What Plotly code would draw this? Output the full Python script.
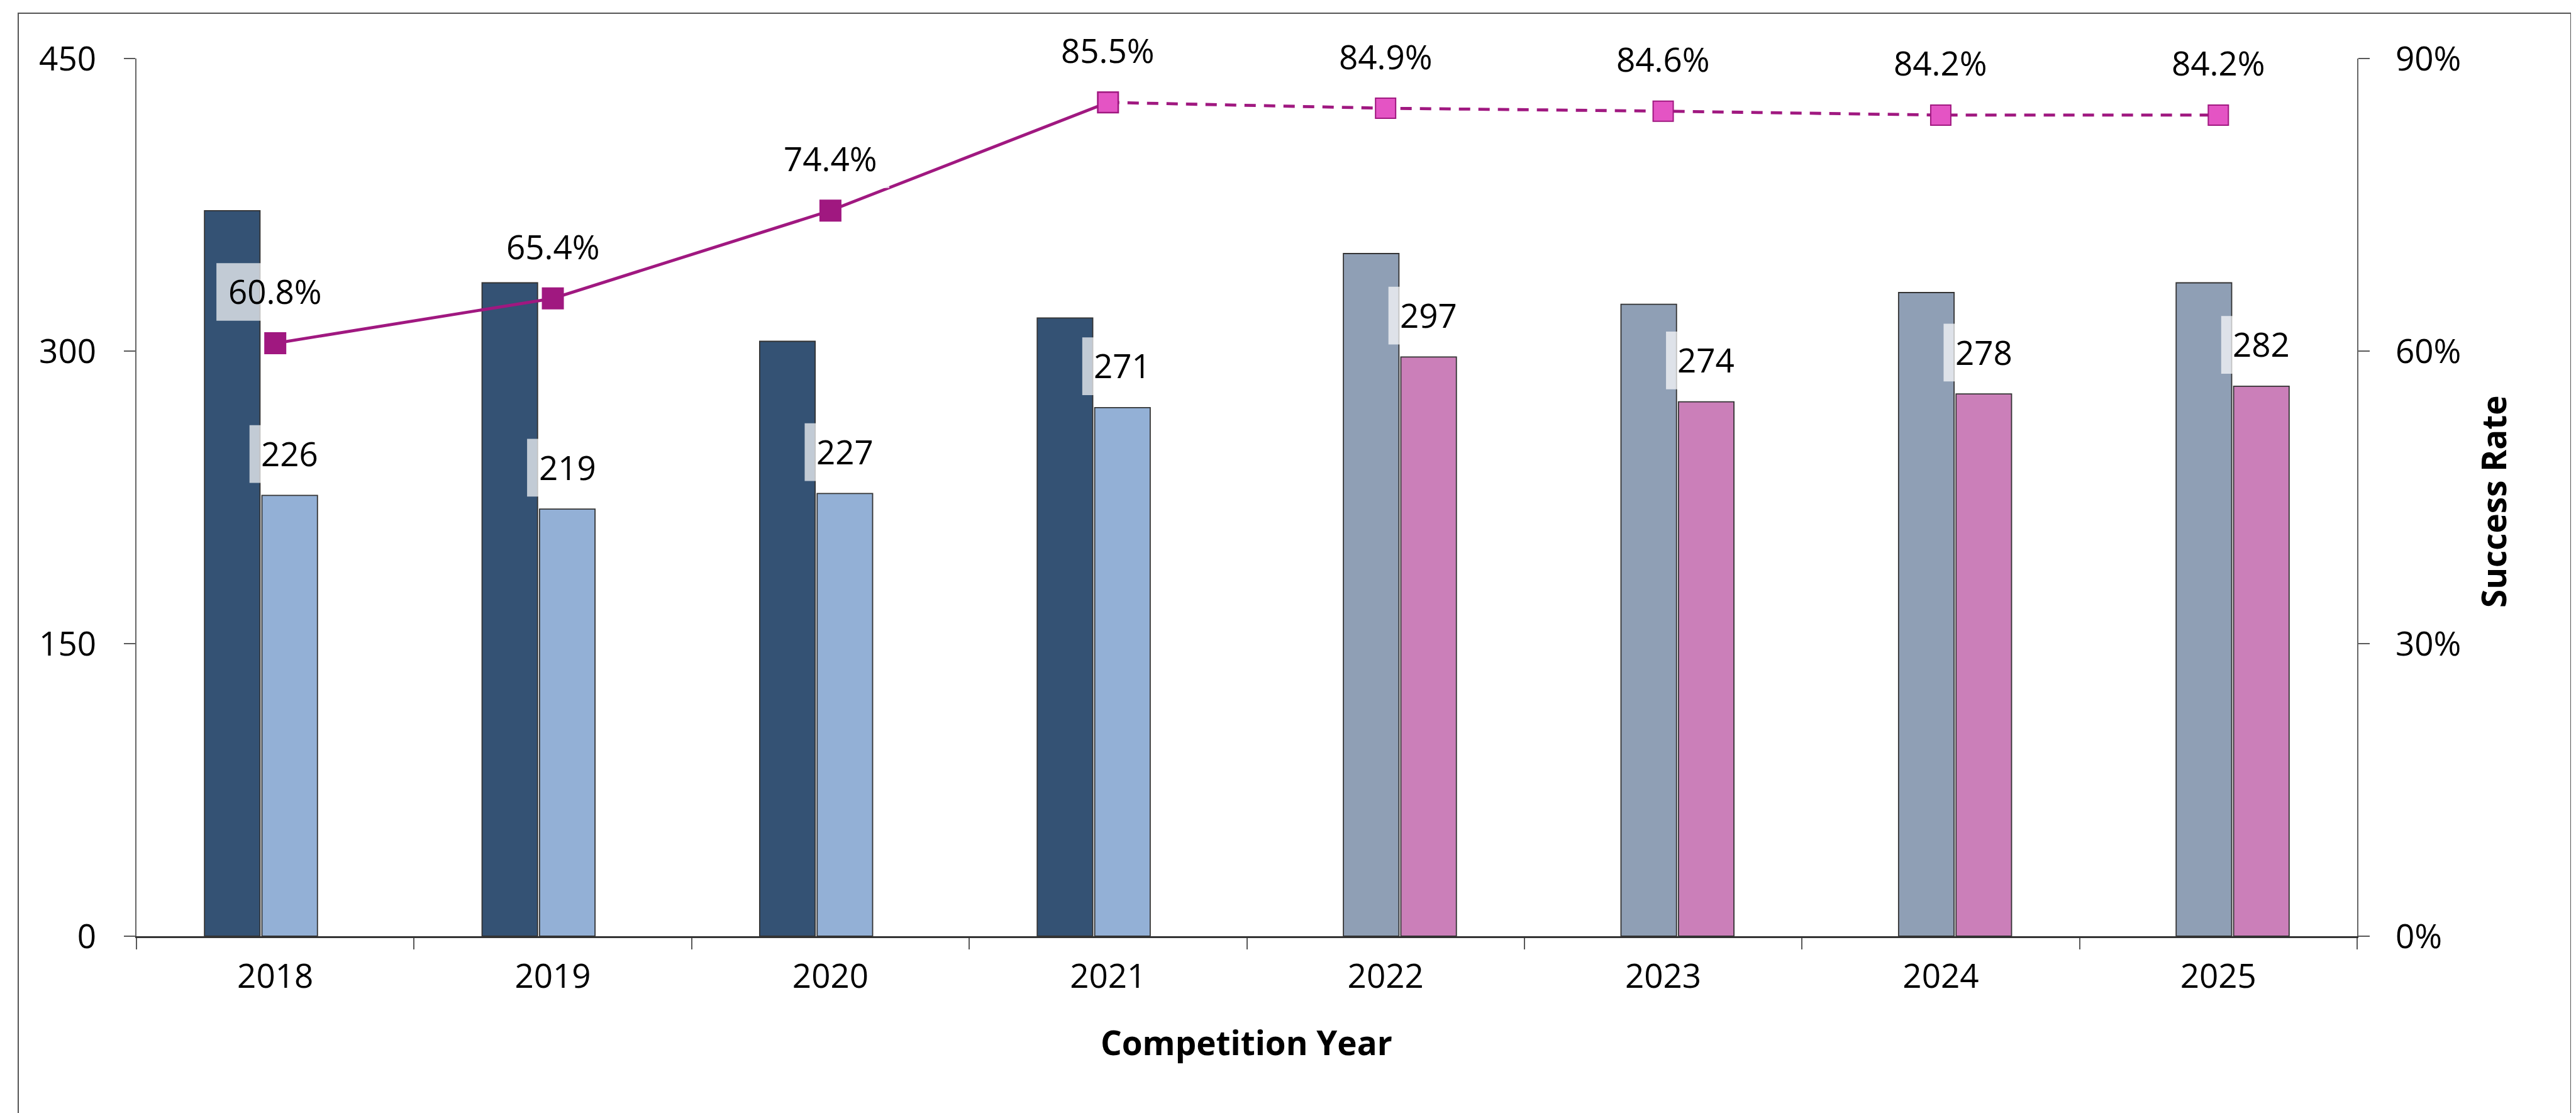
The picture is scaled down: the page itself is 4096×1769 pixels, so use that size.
import plotly.graph_objects as go

# ---------------- data ----------------
years = ["2018", "2019", "2020", "2021", "2022", "2023", "2024", "2025"]
hist_years = ["2018", "2019", "2020", "2021"]
proj_years = ["2022", "2023", "2024", "2025"]
hist_total = [372, 335, 305, 317]
hist_success = [226, 219, 227, 271]
proj_total = [350, 324, 330, 335]
proj_success = [297, 274, 278, 282]
success_rate = [0.608, 0.654, 0.744, 0.855, 0.849, 0.846, 0.842, 0.842]
y_ticks = [0, 150, 300, 450]
y2_ticks = [0, 0.3, 0.6, 0.9]
x_title = "Competition Year"
y2_title = "Success Rate"

# ---------------- geometry / style ----------------
W, H = 4096, 1769
ML, MR, MT, MB = 209, 356, 85, 289
PW, PH = W - ML - MR, H - MT - MB
FONT = "Open Sans"
FS = 53
TITLE_FS = 53

BAR_W = 0.2
OFF_A, OFF_C, OFF_B, OFF_D = -0.255, -0.152, -0.048, 0.055
C_DARK = "#345274"
C_LIGHT = "#93b0d6"
C_GREY = "#8f9fb5"
C_PINK = "#cb7fb9"
C_LINE = "#a01880"
C_MARK2 = "#e454c4"
OUTLINE = dict(color="#333333", width=1.8)


def px_to_paper_x(px):
    return (px - ML) / PW


def px_to_paper_y(py):
    return (H - MB - py) / PH


fig = go.Figure()

fig.add_trace(go.Bar(x=hist_years, y=hist_total, offset=OFF_A, width=BAR_W,
                     marker=dict(color=C_DARK, line=OUTLINE), name="A"))
fig.add_trace(go.Bar(x=proj_years, y=proj_total, offset=OFF_C, width=BAR_W,
                     marker=dict(color=C_GREY, line=OUTLINE), name="C"))
fig.add_trace(go.Bar(x=hist_years, y=hist_success, offset=OFF_B, width=BAR_W,
                     marker=dict(color=C_LIGHT, line=OUTLINE), name="B"))
fig.add_trace(go.Bar(x=proj_years, y=proj_success, offset=OFF_D, width=BAR_W,
                     marker=dict(color=C_PINK, line=OUTLINE), name="D"))

fig.add_trace(go.Scatter(x=years[:4], y=success_rate[:4], yaxis="y2",
                         mode="lines+markers",
                         line=dict(color=C_LINE, width=4.8),
                         marker=dict(symbol="square", size=35, color=C_LINE,
                                     line=dict(color=C_LINE, width=0)),
                         name="rate"))
fig.add_trace(go.Scatter(x=years[3:], y=success_rate[3:], yaxis="y2",
                         mode="lines+markers",
                         line=dict(color=C_LINE, width=4.8, dash="18px,13px"),
                         marker=dict(symbol="square", size=32, color=C_MARK2,
                                     line=dict(color=C_LINE, width=2)),
                         name="rate proj"))

shapes = []
annotations = []

# bar labels (second bar of each group)
bar_label_sets = [(hist_years, hist_success, OFF_B), (proj_years, proj_success, OFF_D)]
for yrs, vals, off in bar_label_sets:
    for yr, v in zip(yrs, vals):
        i = years.index(yr)
        cx = i + off + BAR_W / 2
        shapes.append(dict(type="rect", xref="x", yref="y", layer="above",
                           x0=cx - 0.1448, x1=cx + 0.1448, y0=v + 6.4, y1=v + 36.0,
                           fillcolor="rgba(255,255,255,0.7)", line=dict(width=0)))
        annotations.append(dict(x=cx, y=v, xref="x", yref="y", yshift=67,
                                text=str(v), showarrow=False, xanchor="center",
                                yanchor="middle", font=dict(family=FONT, size=FS, color="black")))

# rate labels
for i, r in enumerate(success_rate):
    shapes.append(dict(type="rect", xref="x", yref="y2", layer="above",
                       x0=i - 0.212, x1=i + 0.212, y0=r + 0.0231, y1=r + 0.0822,
                       fillcolor="rgba(255,255,255,0.7)", line=dict(width=0)))
    annotations.append(dict(x=i, y=r, xref="x", yref="y2", yshift=83,
                            text=f"{r*100:.1f}%", showarrow=False, xanchor="center",
                            yanchor="middle", font=dict(family=FONT, size=FS, color="black")))

# axis titles
annotations.append(dict(x=px_to_paper_x(1974), y=px_to_paper_y(1648), xref="paper", yref="paper",
                        text=f"<b>{x_title}</b>", showarrow=False, xanchor="center", yanchor="middle",
                        font=dict(family=FONT, size=TITLE_FS, color="black")))
annotations.append(dict(x=px_to_paper_x(3956), y=px_to_paper_y(789), xref="paper", yref="paper",
                        text=f"<b>{y2_title}</b>", showarrow=False, xanchor="center", yanchor="middle",
                        textangle=-90, font=dict(family=FONT, size=TITLE_FS, color="black")))

# outer frame
shapes.append(dict(type="rect", xref="paper", yref="paper", layer="below",
                   x0=px_to_paper_x(21), x1=px_to_paper_x(4080),
                   y0=px_to_paper_y(1850), y1=px_to_paper_y(13),
                   line=dict(color="#555555", width=2), fillcolor="rgba(0,0,0,0)"))

fig.update_layout(
    width=W, height=H,
    margin=dict(l=ML, r=MR, t=MT, b=MB, pad=0),
    paper_bgcolor="white", plot_bgcolor="white",
    barmode="overlay", showlegend=False,
    font=dict(family=FONT, size=FS, color="black"),
    shapes=shapes, annotations=annotations,
    xaxis=dict(type="category", categoryorder="array", categoryarray=years,
               range=[-0.5, 7.5], tickson="boundaries", ticks="outside",
               ticklen=17.6, tickwidth=1.5, tickcolor="#595959",
               showline=True, linecolor="#333333", linewidth=2.8,
               showgrid=False, zeroline=False,
               tickfont=dict(family=FONT, size=FS, color="black"),
               ticklabelstandoff=15),
    yaxis=dict(range=[0, 450], tickvals=y_ticks, ticks="outside",
               ticklen=18.5, tickwidth=1.5, tickcolor="#595959",
               showline=True, linecolor="#666666", linewidth=1.8,
               showgrid=False, zeroline=False,
               tickfont=dict(family=FONT, size=FS, color="black"),
               ticklabelstandoff=33),
    yaxis2=dict(overlaying="y", side="right", range=[0, 0.9], tickvals=y2_ticks,
                tickformat=".0%", ticks="outside",
                ticklen=18.5, tickwidth=1.5, tickcolor="#595959",
                showline=True, linecolor="#666666", linewidth=1.8,
                showgrid=False, zeroline=False,
                tickfont=dict(family=FONT, size=FS, color="black"),
                ticklabelstandoff=30),
)

fig.write_html("out.html")
